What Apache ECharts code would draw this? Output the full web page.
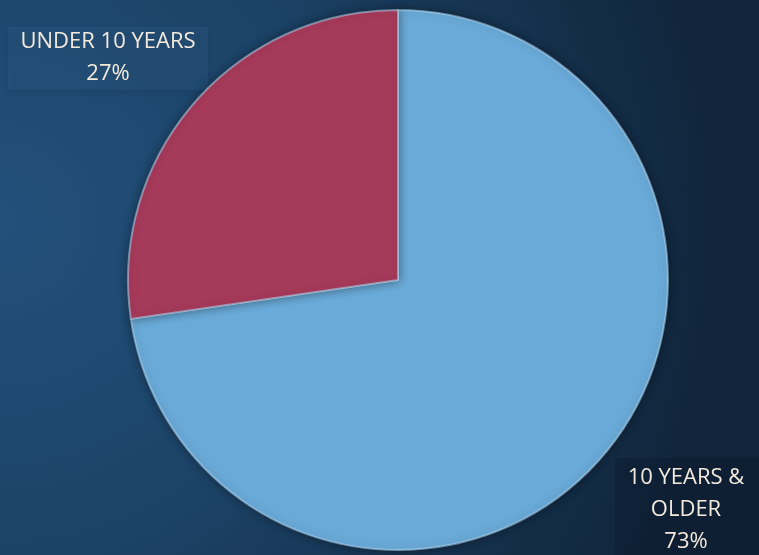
<!DOCTYPE html>
<html lang="en">
<head>
    <meta charset="UTF-8"/>
    <title>age</title>
    <script src="https://cdn.jsdelivr.net/npm/echarts@6/dist/echarts.min.js"></script>
    <style>
        html, body { margin: 0; padding: 0; }
        #main { width: 759px; height: 555px; }
    </style>
</head>
<body>
<div id="main"></div>
<script type="text/javascript">
    var names = ['10 YEARS &\nOLDER', 'UNDER 10 YEARS'];
    var values = [72.7, 27.3];
    var colors = ['#6AAAD8', '#A63A5A'];
    // label centres (x, y)
    var labelPos = [[686, 510], [108, 58]];

    var myChart = echarts.init(document.getElementById('main'));

    var data = [];
    for (var i = 0; i < names.length; i++) {
        data.push({
            name: names[i],
            value: values[i],
            itemStyle: {color: colors[i]}
        });
    }

    var option = {
        backgroundColor: {
            type: 'radial', x: 0.0, y: 0.4, r: 1.3,
            colorStops: [
                {offset: 0, color: '#22507A'},
                {offset: 0.45, color: '#1C4367'},
                {offset: 1, color: '#10253B'}
            ]
        },
        graphic: [
            {type: 'rect', shape: {x: 8, y: 27, width: 200, height: 63},
                style: {fill: 'rgba(60,110,160,0.22)', shadowBlur: 6, shadowOffsetY: 3, shadowColor: 'rgba(0,0,0,0.35)'}},
            {type: 'rect', shape: {x: 615, y: 458, width: 144, height: 97},
                style: {fill: 'rgba(10,20,35,0.3)'}}
        ],
        series: [
            {
                type: 'pie',
                center: [398, 280],
                radius: 270,
                startAngle: 90,
                clockwise: true,
                data: data,
                itemStyle: {
                    borderColor: 'rgba(190,225,250,0.5)',
                    borderWidth: 2,
                    shadowBlur: 10,
                    shadowColor: 'rgba(0,0,0,0.4)'
                },
                emphasis: {disabled: true},
                label: {
                    show: true,
                    position: 'outside',
                    formatter: function (p) {
                        return p.name + '\n' + Math.round(p.value) + '%';
                    },
                    color: '#F3E9DC',
                    fontFamily: 'Open Sans',
                    fontSize: 22,
                    lineHeight: 32,
                    align: 'center',
                    overflow: 'none',
                    width: 220
                },
                labelLine: {show: false},
                labelLayout: function (params) {
                    var p = labelPos[params.dataIndex];
                    return {x: p[0], y: p[1], align: 'center', verticalAlign: 'middle'};
                }
            }
        ]
    };

    myChart.setOption(option);
</script>
</body>
</html>
